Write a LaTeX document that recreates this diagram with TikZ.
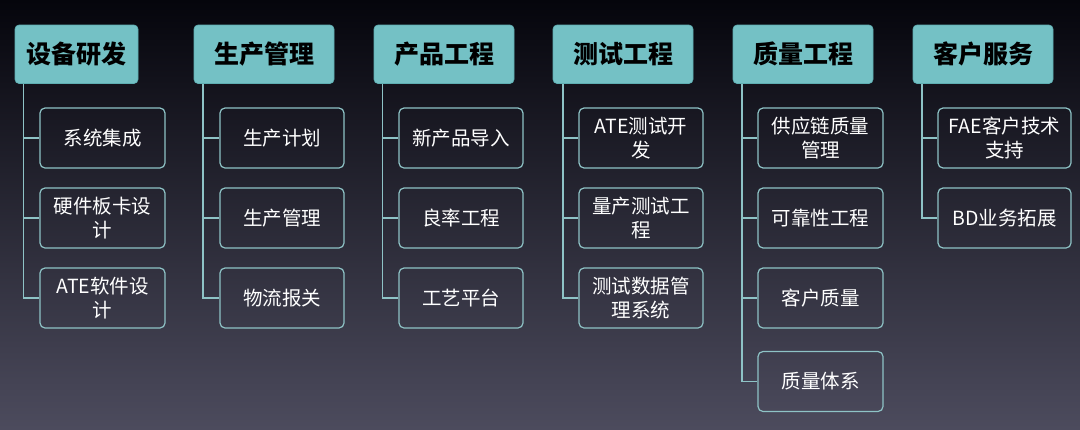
\documentclass[tikz,border=0pt]{standalone}
\usepackage{fontspec}
\newfontfamily\cjk{Noto Sans CJK SC}
\definecolor{bgtop}{HTML}{05050C}
\definecolor{bgmid}{HTML}{1E1E2D}
\definecolor{bgbot}{HTML}{4C4B5D}
\definecolor{hdrfill}{HTML}{74C1C5}
\definecolor{hdrline}{HTML}{5EAEB2}
\definecolor{subline}{HTML}{8EC3C6}
\begin{document}
\begin{tikzpicture}[x=1pt,y=-1pt,
  hdr/.style={draw=hdrline, fill=hdrfill, rounded corners=4pt, line width=0.6pt,
    minimum height=58.5pt, inner sep=0pt, text=black,
    font=\cjk\bfseries\fontsize{25}{30}\selectfont},
  sub/.style={draw=subline, rounded corners=5pt, line width=1.2pt,
    minimum height=60pt, minimum width=125pt, inner sep=0pt, align=center,
    text=white, font=\cjk\fontsize{19.5}{24.5}\selectfont},
  conn/.style={draw=subline, line width=1.2pt}]
\useasboundingbox (0,0) rectangle (1080,429);
\shade[top color=bgtop, middle color=bgmid, bottom color=bgbot] (0,0) rectangle (1080,429);

% headers
\node[hdr, minimum width=123pt] (h1) at (76.5,54.25) {设备研发};
\node[hdr, minimum width=140pt] (h2) at (264,54.25) {生产管理};
\node[hdr, minimum width=140pt] (h3) at (444,54.25) {产品工程};
\node[hdr, minimum width=140pt] (h4) at (623,54.25) {测试工程};
\node[hdr, minimum width=140pt] (h5) at (803,54.25) {质量工程};
\node[hdr, minimum width=140pt] (h6) at (983,54.25) {客户服务};

% trunk tops
\coordinate (t1) at (23.5,83.5);
\coordinate (t2) at (203,83.5);
\coordinate (t3) at (382.5,83.5);
\coordinate (t4) at (563,83.5);
\coordinate (t5) at (742,83.5);
\coordinate (t6) at (922,83.5);

% column 1
\node[sub] (c11) at (102.5,138) {系统集成};
\node[sub] (c12) at (102.5,218) {硬件板卡设\\计};
\node[sub] (c13) at (102.5,298) {ATE软件设\\计};
% column 2
\node[sub, minimum width=124pt] (c21) at (282,138) {生产计划};
\node[sub, minimum width=124pt] (c22) at (282,218) {生产管理};
\node[sub, minimum width=124pt] (c23) at (282,298) {物流报关};
% column 3
\node[sub, minimum width=124pt] (c31) at (461,138) {新产品导入};
\node[sub, minimum width=124pt] (c32) at (461,218) {良率工程};
\node[sub, minimum width=124pt] (c33) at (461,298) {工艺平台};
% column 4
\node[sub, minimum width=124pt] (c41) at (641,138) {ATE测试开\\发};
\node[sub, minimum width=124pt] (c42) at (641,218) {量产测试工\\程};
\node[sub, minimum width=124pt] (c43) at (641,298) {测试数据管\\理系统};
% column 5
\node[sub] (c51) at (820.5,138) {供应链质量\\管理};
\node[sub] (c52) at (820.5,218) {可靠性工程};
\node[sub] (c53) at (820.5,298) {客户质量};
\node[sub] (c54) at (820.5,381.5) {质量体系};
% column 6
\node[sub, minimum width=133pt] (c61) at (1004.5,138) {FAE客户技术\\支持};
\node[sub, minimum width=133pt] (c62) at (1004.5,218) {BD业务拓展};

% connectors
\draw[conn] (t1) |- (c13.west);
\draw[conn] (t1 |- c11.west) -- (c11.west);
\draw[conn] (t1 |- c12.west) -- (c12.west);

\draw[conn] (t2) |- (c23.west);
\draw[conn] (t2 |- c21.west) -- (c21.west);
\draw[conn] (t2 |- c22.west) -- (c22.west);

\draw[conn] (t3) |- (c33.west);
\draw[conn] (t3 |- c31.west) -- (c31.west);
\draw[conn] (t3 |- c32.west) -- (c32.west);

\draw[conn] (t4) |- (c43.west);
\draw[conn] (t4 |- c41.west) -- (c41.west);
\draw[conn] (t4 |- c42.west) -- (c42.west);

\draw[conn] (t5) |- (c54.west);
\draw[conn] (t5 |- c51.west) -- (c51.west);
\draw[conn] (t5 |- c52.west) -- (c52.west);
\draw[conn] (t5 |- c53.west) -- (c53.west);

\draw[conn] (t6) |- (c62.west);
\draw[conn] (t6 |- c61.west) -- (c61.west);
\end{tikzpicture}
\end{document}
